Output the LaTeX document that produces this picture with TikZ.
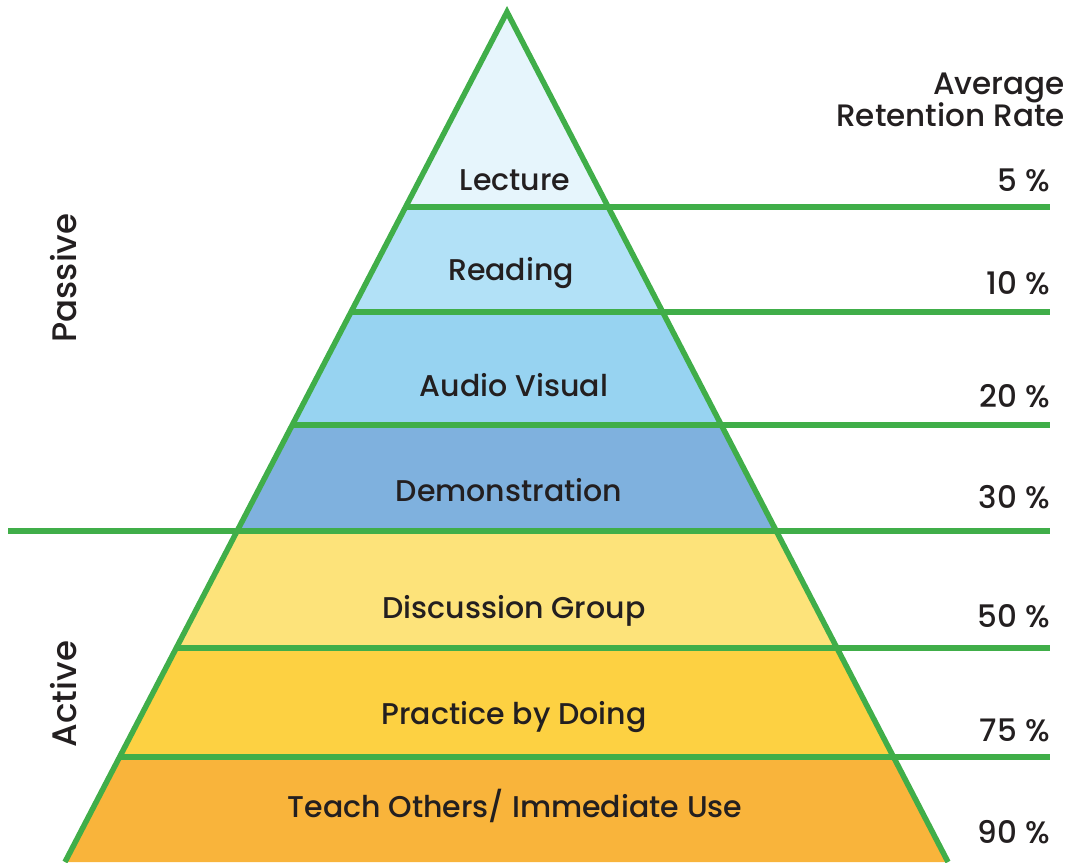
\documentclass[tikz,border=0pt]{standalone}
\usepackage{fontspec}
\setmainfont{Poppins}[UprightFont={* Medium}]
\usetikzlibrary{calc}
\definecolor{pgreen}{HTML}{40AE49}
\definecolor{ptext}{HTML}{231F20}
\definecolor{cA}{HTML}{E6F5FC}
\definecolor{cB}{HTML}{B2E1F7}
\definecolor{cC}{HTML}{97D3F1}
\definecolor{cD}{HTML}{7FB1DE}
\definecolor{cE}{HTML}{FDE37A}
\definecolor{cF}{HTML}{FDD142}
\definecolor{cG}{HTML}{F9B43B}
\tikzset{
  layerlabel/.style={text=ptext,font=\fontsize{30}{33}\selectfont,anchor=center,inner sep=0pt},
  ratelabel/.style={text=ptext,font=\fontsize{31}{30}\selectfont,anchor=base east,inner sep=0pt},
  sidelabel/.style={text=ptext,font=\fontsize{34}{36}\selectfont,rotate=90,anchor=center,inner sep=0pt},
  gline/.style={draw=pgreen,line width=5.5pt},
}
\begin{document}
\begin{tikzpicture}[x=1pt,y=-1pt]
\useasboundingbox (0,0) rectangle (1075,862);
\clip (0,0) rectangle (1075,862);
\coordinate (A) at (507,12);
\coordinate (BL) at (65,862);
\coordinate (BR) at (948,862);
\foreach \n/\t in {1/0.2294,2/0.3529,3/0.4859,4/0.6106,5/0.7482,6/0.8765}{
  \coordinate (L\n) at ($(A)!\t!(BL)$);
  \coordinate (R\n) at ($(A)!\t!(BR)$);
}
% fills
\fill[cA] (A) -- (L1) -- (R1) -- cycle;
\fill[cB] (L1) -- (L2) -- (R2) -- (R1) -- cycle;
\fill[cC] (L2) -- (L3) -- (R3) -- (R2) -- cycle;
\fill[cD] (L3) -- (L4) -- (R4) -- (R3) -- cycle;
\fill[cE] (L4) -- (L5) -- (R5) -- (R4) -- cycle;
\fill[cF] (L5) -- (L6) -- (R6) -- (R5) -- cycle;
\fill[cG] (L6) -- (BL) -- (BR) -- (R6) -- cycle;
% right-end coordinates
\foreach \n in {1,...,6}{
  \coordinate (E\n) at (1050,0 |- L\n);
}
\coordinate (S4) at (8,0 |- L4);
% lines
\draw[gline] (L1) -- (E1);
\draw[gline] (L2) -- (E2);
\draw[gline] (L3) -- (E3);
\draw[gline] (S4) -- (E4);
\draw[gline] (L5) -- (E5);
\draw[gline] (L6) -- (E6);
\draw[gline,line join=miter] (BL) -- (A) -- (BR);
% layer labels
\node[layerlabel] (lec) at (515,180) {Lecture};
\node[layerlabel] (rea) at (511,273) {Reading};
\node[layerlabel] (aud) at (514,385) {Audio Visual};
\node[layerlabel] (dem) at (509,490) {Demonstration};
\node[layerlabel] (dis) at (514,611) {Discussion Group};
\node[layerlabel] (pra) at (514,717) {Practice by Doing};
\node[layerlabel] (tea) at (515,806) {Teach Others/ Immediate Use};
% rates
\node[ratelabel,align=right] (hdr) at (1065,126) {Average\\[-2pt]Retention Rate};
\node[ratelabel] (r1) at (1050,191) {5 \%};
\node[ratelabel] (r2) at (1050,294) {10 \%};
\node[ratelabel] (r3) at (1050,407) {20 \%};
\node[ratelabel] (r4) at (1050,508) {30 \%};
\node[ratelabel] (r5) at (1050,627) {50 \%};
\node[ratelabel] (r6) at (1050,741) {75 \%};
\node[ratelabel] (r7) at (1050,843) {90 \%};
% side labels
\node[sidelabel] (pas) at (64,278) {Passive};
\node[sidelabel] (act) at (64,694) {Active};
\end{tikzpicture}
\end{document}
